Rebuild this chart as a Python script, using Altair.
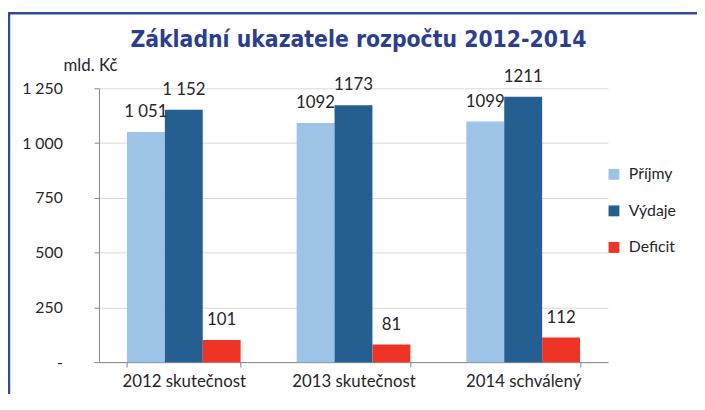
import altair as alt
import pandas as pd

categories = ["2012 skutečnost", "2013 skutečnost", "2014 schválený"]
series = ["Příjmy", "Výdaje", "Deficit"]
prijmy = [1051, 1092, 1099]
vydaje = [1152, 1173, 1211]
deficit = [101, 81, 112]
labels_prijmy = ["1 051", "1092", "1099"]
labels_vydaje = ["1 152", "1173", "1211"]
labels_deficit = ["101", "81", "112"]
colors = ["#9dc3e6", "#255e91", "#ee3424"]
y_ticks = [0, 250, 500, 750, 1000, 1250]

rows = []
for s, vals, labs in zip(series, [prijmy, vydaje, deficit],
                         [labels_prijmy, labels_vydaje, labels_deficit]):
    for c, v, l in zip(categories, vals, labs):
        rows.append({"kategorie": c, "rada": s, "hodnota": v, "popis": l})
df = pd.DataFrame(rows)

FONT = "Lato"
W, H = 515, 277
PAD_L, PAD_T = 92, 79

x_enc = alt.X("kategorie:N", sort=categories,
              scale=alt.Scale(paddingInner=0.33, paddingOuter=0.165),
              axis=alt.Axis(title=None, tickBand="extent", labelAngle=0,
                            domainColor="#868686", tickColor="#868686",
                            tickSize=5, labelFontSize=17, labelFont=FONT,
                            labelColor="#262626", labelPadding=7, grid=False))
xoff = alt.XOffset("rada:N", sort=series)
y_enc = alt.Y("hodnota:Q",
              scale=alt.Scale(domain=[0, 1250], nice=False),
              axis=alt.Axis(values=y_ticks, title="mld. Kč",
                            titleAngle=0, titleX=-9, titleY=-23,
                            titleAlign="center", titleBaseline="middle",
                            titleFont=FONT, titleFontSize=17,
                            titleFontWeight="normal", titleColor="#262626",
                            labelExpr="datum.value == 0 ? '-' : replace(format(datum.value, ','), ',', ' ')",
                            labelFont=FONT, labelFontSize=16, labelColor="#262626",
                            labelPadding=32, tickSize=5,
                            domainColor="#868686", tickColor="#868686",
                            gridColor="#d9d9d9"))

bars = alt.Chart(df).mark_bar().encode(
    x=x_enc, xOffset=xoff, y=y_enc,
    color=alt.Color("rada:N", sort=series,
                    scale=alt.Scale(domain=series, range=colors),
                    legend=alt.Legend(title=None, orient="none",
                                      legendX=513, legendY=79,
                                      symbolType="square", symbolSize=121,
                                      symbolStrokeWidth=0,
                                      labelFont=FONT, labelFontSize=16,
                                      labelColor="#262626", rowPadding=21,
                                      labelOffset=7)),
)

text = alt.Chart(df).mark_text(baseline="middle", dy=-20, font=FONT,
                               fontSize=17, color="#262626").encode(
    x=alt.X("kategorie:N", sort=categories), xOffset=xoff,
    y=alt.Y("hodnota:Q"), text="popis:N",
)

one = alt.Data(values=[{}])
frame_top = alt.Chart(one).mark_rule(color="#2e4a9e", strokeWidth=2.5).encode(
    x=alt.value(-92), x2=alt.value(605), y=alt.value(-76))
frame_left = alt.Chart(one).mark_rule(color="#2e4a9e", strokeWidth=2.5).encode(
    x=alt.value(-91), y=alt.value(-77), y2=alt.value(400))

chart = alt.layer(frame_top, frame_left, bars, text).properties(
    width=W, height=H,
    autosize=alt.AutoSizeParams(type="none"),
    padding={"left": PAD_L, "top": PAD_T, "right": 90, "bottom": 30},
    title=alt.TitleParams("Základní ukazatele rozpočtu 2012-2014",
                          anchor="middle",
                          font="DejaVu Sans Condensed, Roboto, sans-serif",
                          fontSize=23, fontWeight="bold", color="#2b3f8f",
                          baseline="alphabetic", offset=-59, dx=5),
).configure_view(stroke=None)

chart.save("out.html", embed_options={"renderer": "svg", "actions": False})
